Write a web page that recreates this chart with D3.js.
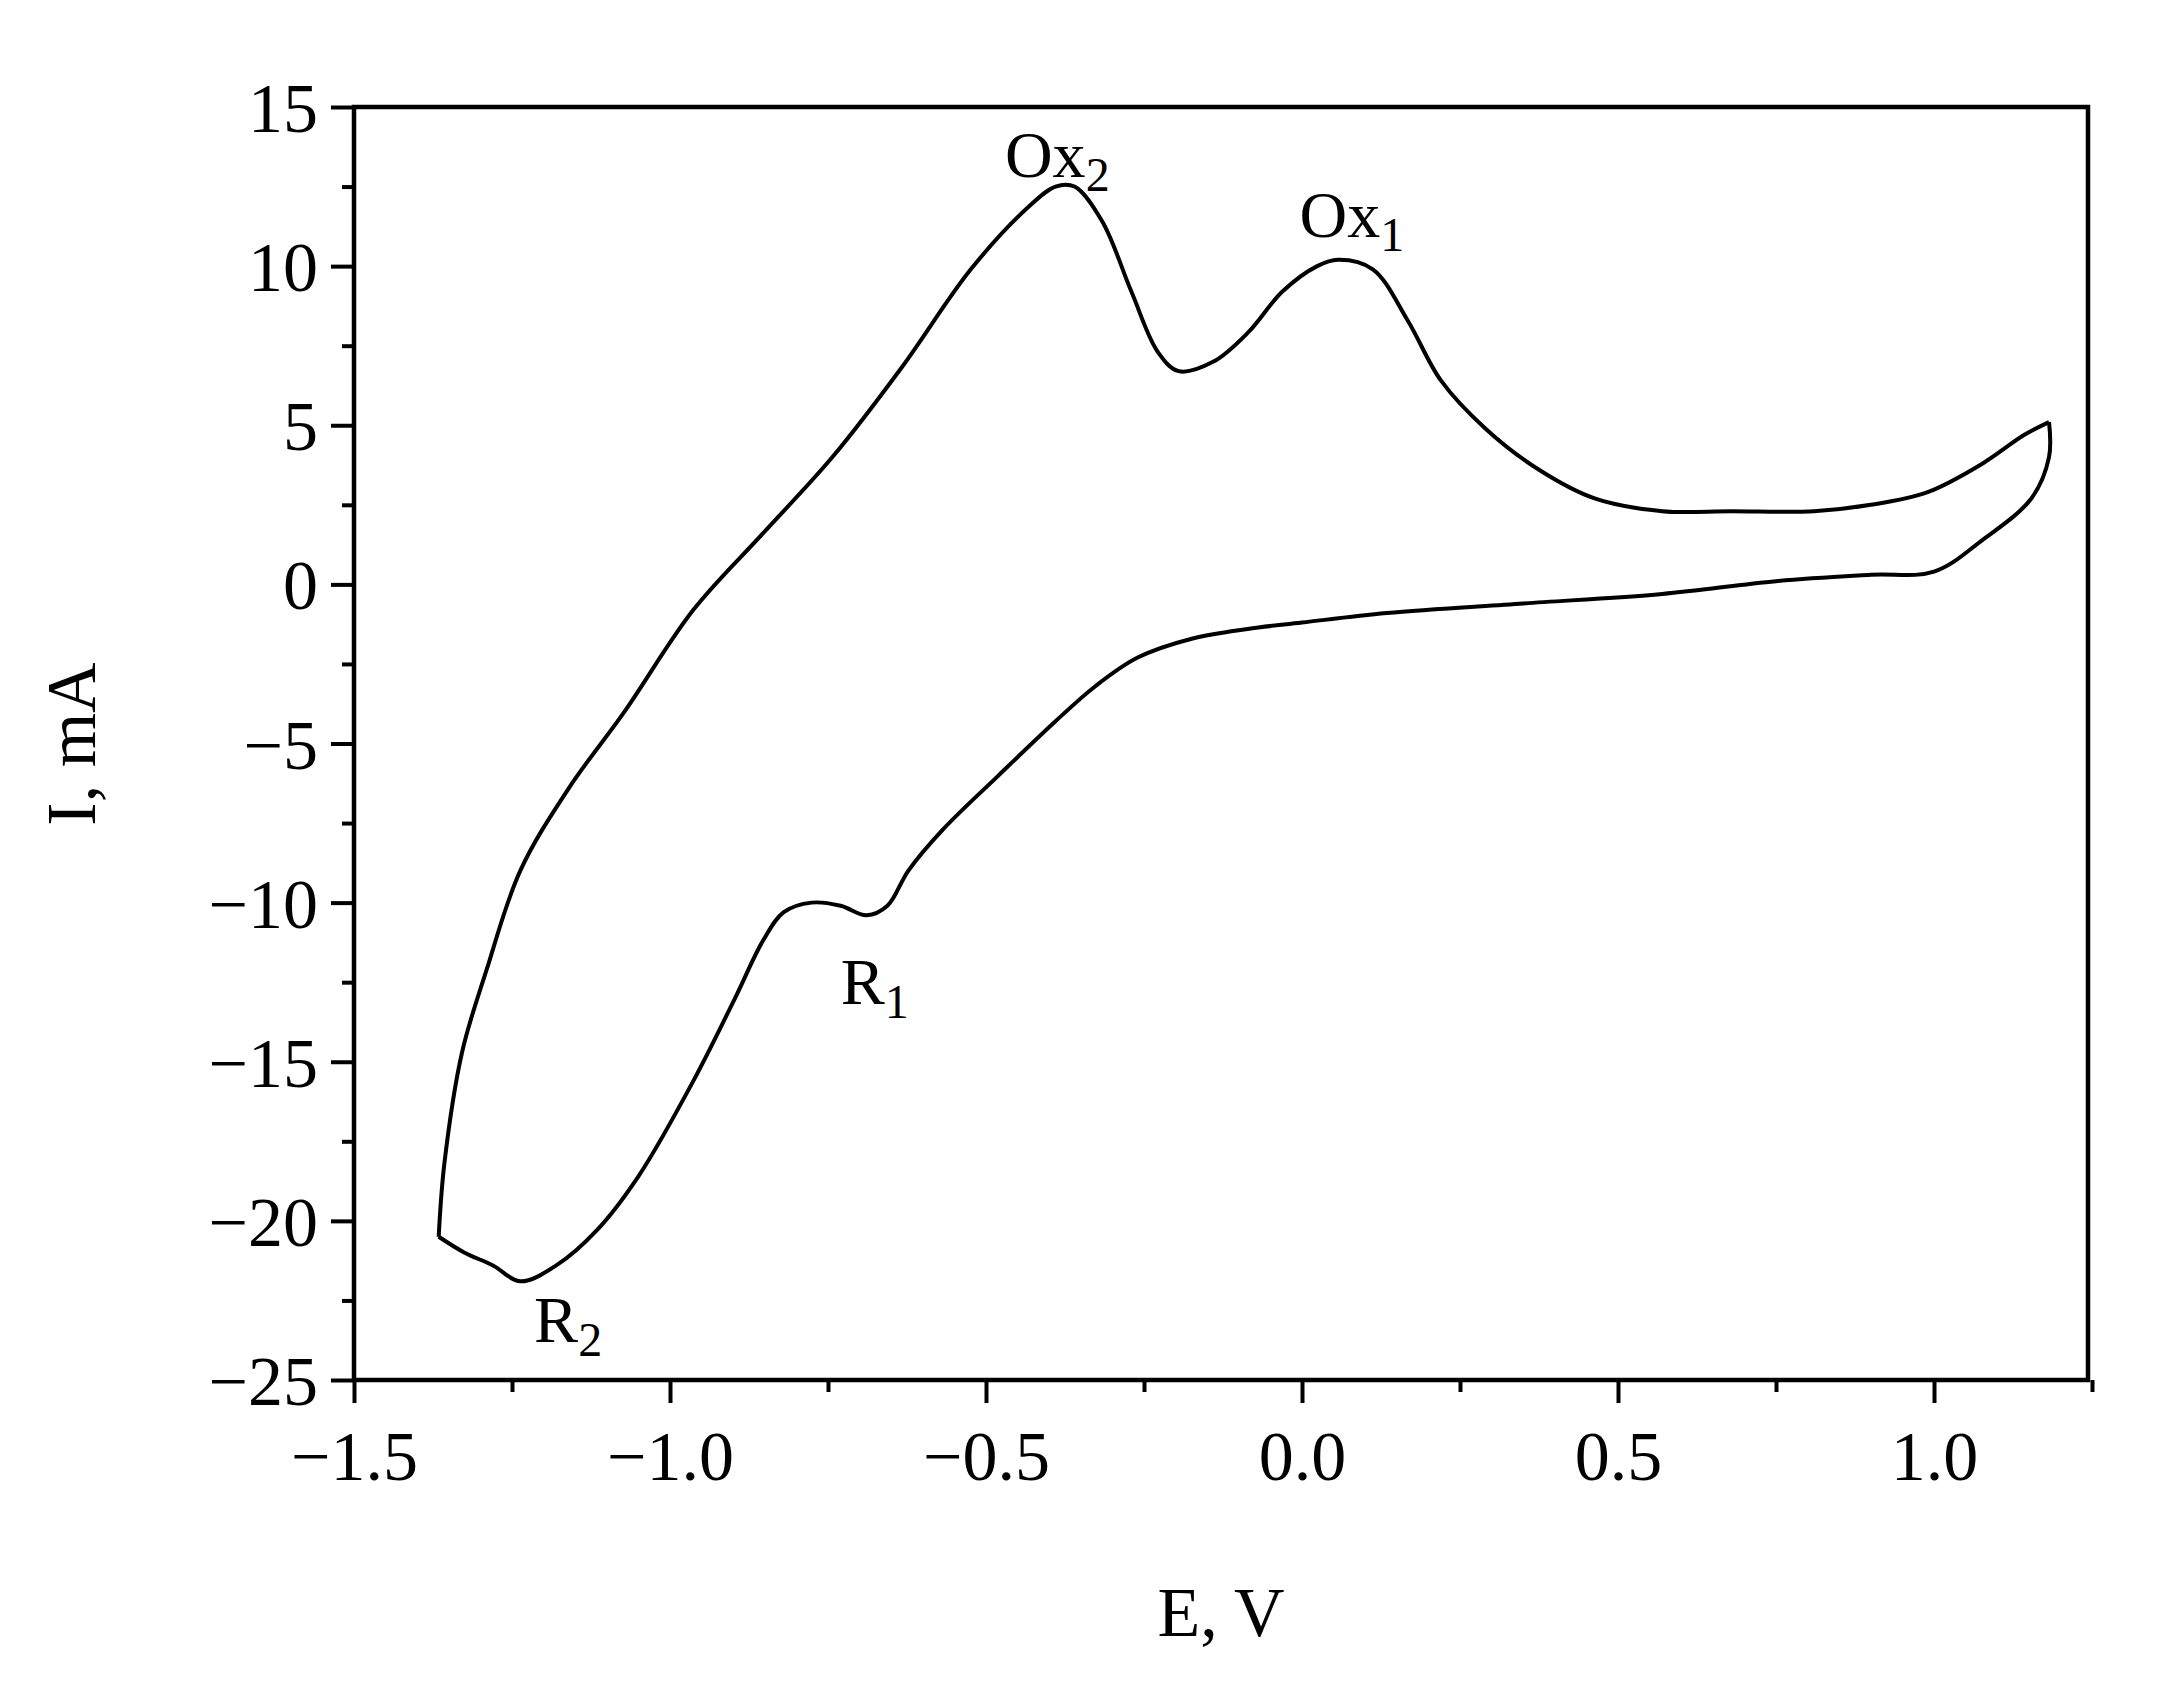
<!DOCTYPE html>
<html><head><meta charset="utf-8">
<script src="https://cdn.jsdelivr.net/npm/d3@7"></script>
<style>body{margin:0;background:#fff}text{font-family:"Liberation Serif","DejaVu Serif",serif;fill:#000}</style>
</head><body><svg id="c" width="2171" height="1681"></svg>
<script>
const forwardE=[-1.366,-1.357,-1.329,-1.29,-1.237,-1.16,-1.072,-0.963,-0.853,-0.743,-0.634,-0.524,-0.436,-0.39,-0.36,-0.316,-0.27,-0.228,-0.195,-0.14,-0.086,-0.031,0.024,0.057,0.112,0.167,0.22,0.29,0.375,0.463,0.57,0.68,0.81,0.90,0.99,1.077,1.143,1.182];
const forwardI=[-20.5,-18.2,-14.7,-12.1,-9.0,-6.4,-4.0,-0.8,1.6,4.0,6.8,9.9,11.8,12.5,12.5,11.4,9.2,7.3,6.7,7.0,7.9,9.2,10.0,10.2,9.9,8.3,6.4,4.9,3.6,2.7,2.3,2.3,2.3,2.5,2.9,3.8,4.7,5.1];
const reverseE=[1.182,1.182,1.154,1.077,1.0,0.9,0.75,0.57,0.35,0.134,0.0,-0.086,-0.173,-0.26,-0.327,-0.39,-0.48,-0.568,-0.623,-0.656,-0.689,-0.73,-0.776,-0.82,-0.853,-0.897,-0.963,-1.05,-1.116,-1.18,-1.237,-1.28,-1.325,-1.366];
const reverseI=[5.1,4.0,2.7,1.4,0.4,0.3,0.1,-0.3,-0.6,-0.9,-1.2,-1.4,-1.7,-2.3,-3.2,-4.3,-6.0,-7.7,-9.0,-10.1,-10.4,-10.1,-10.0,-10.3,-11.2,-13.0,-15.6,-18.6,-20.3,-21.4,-21.9,-21.4,-21.0,-20.5];
const xTicks=[-1.5,-1.0,-0.5,0.0,0.5,1.0];
const yTicks=[-25,-20,-15,-10,-5,0,5,10,15];
const labels=[{t:"Ox",s:"2",E:-0.47,I:12.8},{t:"Ox",s:"1",E:-0.004,I:10.9},{t:"R",s:"1",E:-0.73,I:-13.2},{t:"R",s:"2",E:-1.215,I:-23.8}];

const svg=d3.select("#c");
const L=354,R=2088,T=107,B=1380;
const x=d3.scaleLinear().domain([-1.5,-1.5+(R-L)/632]).range([L,R]);
const y=d3.scaleLinear().domain([-25,15]).range([B,T]);
const fmt=v=>(v<0?"\u2212":"")+Math.abs(v).toFixed(1);
const fmtY=v=>(v<0?"\u2212":"")+Math.abs(v);
const xa=svg.append("g").attr("transform",`translate(0,${B})`)
 .call(d3.axisBottom(x).tickValues(d3.range(-1.5,1.26,0.25)).tickFormat(d=>xTicks.some(t=>Math.abs(t-d)<1e-6)?fmt(d):"").tickSize(0).tickSizeOuter(0));
xa.selectAll(".tick line").attr("y2",d=>xTicks.some(t=>Math.abs(t-d)<1e-6)?23:12).attr("stroke-width",4);
const ya=svg.append("g").attr("transform",`translate(${L},0)`)
 .call(d3.axisLeft(y).tickValues(d3.range(-25,15.1,2.5)).tickFormat(d=>d%5===0?fmtY(d):"").tickSizeOuter(0));
ya.selectAll(".tick line").attr("x2",d=>d%5===0?-23:-12).attr("stroke-width",4);
svg.selectAll(".domain").remove();
svg.selectAll(".tick text").style("font-size","70px").style("font-family","Liberation Serif");
xa.selectAll(".tick text").attr("dy",0).attr("y",100);
ya.selectAll(".tick text").attr("x",-36).attr("dy","0.35em");
svg.append("rect").attr("x",L).attr("y",T).attr("width",R-L).attr("height",B-T).attr("fill","none").attr("stroke","#000").attr("stroke-width",4.5);

const line=d3.line().x(d=>x(d[0])).y(d=>y(d[1])).curve(d3.curveCatmullRom);
const fw=forwardE.map((e,i)=>[e,forwardI[i]]);
const rv=reverseE.map((e,i)=>[e,reverseI[i]]);
svg.append("path").attr("d",line(fw)).attr("fill","none").attr("stroke","#000").attr("stroke-width",4);
svg.append("path").attr("d",line(rv)).attr("fill","none").attr("stroke","#000").attr("stroke-width",4);

labels.forEach(l=>{
 const t=svg.append("text").attr("x",x(l.E)).attr("y",y(l.I)).style("font-size","66px");
 t.append("tspan").text(l.t);
 t.append("tspan").attr("dy",14).style("font-size","48px").text(l.s);
});
svg.append("text").attr("x",(L+R)/2).attr("y",1636).attr("text-anchor","middle").style("font-size","70px").text("E, V");
svg.append("text").attr("transform",`translate(95,744) rotate(-90)`).attr("text-anchor","middle").style("font-size","70px").text("I, mA");
</script></body></html>
